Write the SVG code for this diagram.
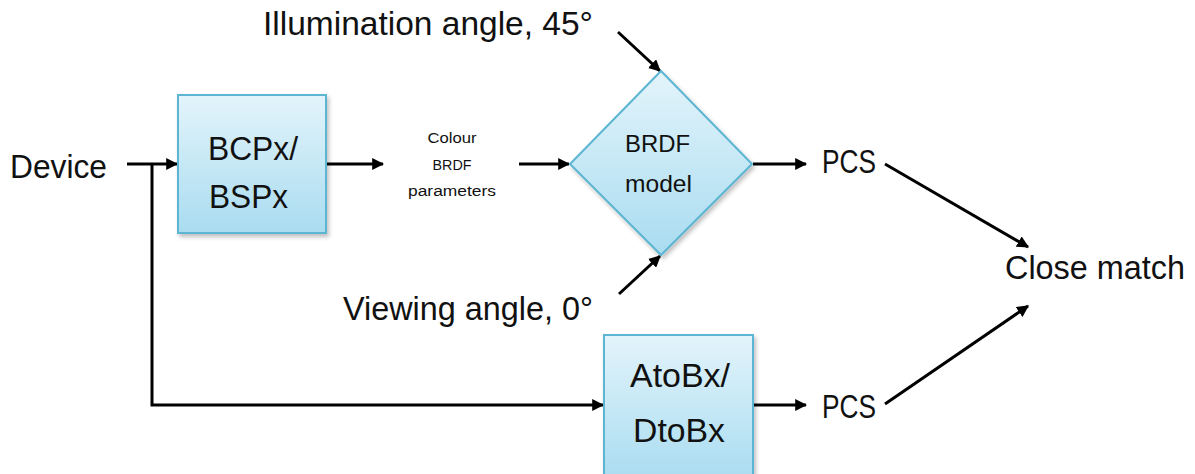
<svg xmlns="http://www.w3.org/2000/svg" width="1195" height="474" viewBox="0 0 1195 474">
<style>
.t{font-family:"Liberation Sans",Arial,sans-serif;fill:#111;}
.big{font-size:33px;}
.box{font-size:34px;}
.dm{font-size:24px;}
.sm{font-size:14px;}
.c{stroke:#000;stroke-width:3;fill:none;}
.node{stroke:#5cb5d2;stroke-width:2;}
</style>
<defs>
<linearGradient id="g" x1="0" y1="0" x2="0" y2="1">
<stop offset="0" stop-color="#e3f4fb"/>
<stop offset="1" stop-color="#a9dcf0"/>
</linearGradient>
<filter id="sh" x="-10%" y="-10%" width="130%" height="130%">
<feDropShadow dx="2" dy="3" stdDeviation="2" flood-color="#000" flood-opacity="0.25"/>
</filter>
<marker id="ah" viewBox="0 0 10 10" refX="9" refY="5" markerWidth="4" markerHeight="4" orient="auto" markerUnits="strokeWidth">
<path d="M0,0 L10,5 L0,10 z" fill="#000"/>
</marker>
</defs>
<rect width="1195" height="474" fill="#fff"/>

<g id="connectors">
<line class="c" x1="127" y1="164" x2="177" y2="164" marker-end="url(#ah)"/>
<polyline class="c" points="152,164 152,405 603,405" marker-end="url(#ah)"/>
<line class="c" x1="327" y1="164" x2="383" y2="164" marker-end="url(#ah)"/>
<line class="c" x1="519" y1="164" x2="569" y2="164" marker-end="url(#ah)"/>
<line class="c" x1="753" y1="164" x2="806" y2="164" marker-end="url(#ah)"/>
<line class="c" x1="618" y1="32" x2="660" y2="71" marker-end="url(#ah)"/>
<line class="c" x1="619" y1="294" x2="660" y2="256" marker-end="url(#ah)"/>
<line class="c" x1="885" y1="164" x2="1028" y2="247" marker-end="url(#ah)"/>
<line class="c" x1="754" y1="405" x2="806" y2="405" marker-end="url(#ah)"/>
<line class="c" x1="885" y1="404" x2="1028" y2="306" marker-end="url(#ah)"/>
</g>

<g id="device"><text class="t big" x="10" y="178" textLength="97" lengthAdjust="spacingAndGlyphs">Device</text></g>

<g id="bcpx">
<rect class="node" x="178" y="95" width="148" height="138" fill="url(#g)" filter="url(#sh)"/>
<text class="t box" x="208" y="160" textLength="90" lengthAdjust="spacingAndGlyphs">BCPx/</text>
<text class="t box" x="209" y="208" textLength="79" lengthAdjust="spacingAndGlyphs">BSPx</text>
</g>

<g id="params">
<text class="t sm" x="452" y="143" text-anchor="middle" textLength="49" lengthAdjust="spacingAndGlyphs">Colour</text>
<text class="t sm" x="452" y="170" text-anchor="middle" textLength="39" lengthAdjust="spacingAndGlyphs">BRDF</text>
<text class="t sm" x="452" y="196" text-anchor="middle" textLength="88" lengthAdjust="spacingAndGlyphs">parameters</text>
</g>

<g id="brdf">
<polygon class="node" points="661,71 752,164 661,255 570,164" fill="url(#g)" filter="url(#sh)"/>
<text class="t dm" x="625" y="152" textLength="65" lengthAdjust="spacingAndGlyphs">BRDF</text>
<text class="t dm" x="625" y="192" textLength="67" lengthAdjust="spacingAndGlyphs">model</text>
</g>

<g id="illum"><text class="t big" x="263" y="35" textLength="330" lengthAdjust="spacingAndGlyphs">Illumination angle, 45°</text></g>
<g id="view"><text class="t big" x="343" y="320" textLength="250" lengthAdjust="spacingAndGlyphs">Viewing angle, 0°</text></g>

<g id="pcs1"><text class="t big" x="822" y="173" textLength="54" lengthAdjust="spacingAndGlyphs">PCS</text></g>
<g id="pcs2"><text class="t big" x="822" y="418" textLength="54" lengthAdjust="spacingAndGlyphs">PCS</text></g>
<g id="close"><text class="t big" x="1005" y="279" textLength="180" lengthAdjust="spacingAndGlyphs">Close match</text></g>

<g id="atobx">
<rect class="node" x="604" y="335" width="149" height="145" fill="url(#g)" filter="url(#sh)"/>
<text class="t box" x="630" y="387" textLength="100" lengthAdjust="spacingAndGlyphs">AtoBx/</text>
<text class="t box" x="633" y="442" textLength="92" lengthAdjust="spacingAndGlyphs">DtoBx</text>
</g>
</svg>
